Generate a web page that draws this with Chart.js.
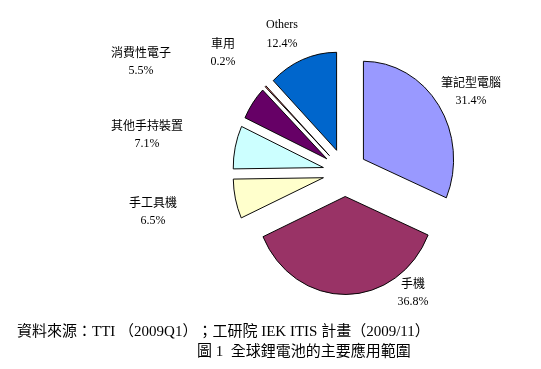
<!DOCTYPE html>
<html>
<head>
<meta charset="utf-8">
<script src="https://cdn.jsdelivr.net/npm/chart.js@4/dist/chart.umd.min.js"></script>
<style>
  html, body { margin: 0; padding: 0; background: #fff; }
  #wrap { position: relative; width: 541px; height: 369px; }
  canvas { display: block; }
</style>
</head>
<body>
<div id="wrap"><canvas id="pie" width="541" height="369"></canvas></div>
<script>
// --- data ---
const categories = ['筆記型電腦', '手機', '手工具機', '其他手持裝置', '消費性電子', '車用', 'Others'];
const shares = [31.4, 36.8, 6.5, 7.1, 5.5, 0.2, 12.4];
const sliceColors = ['#9999FF', '#993366', '#FFFFCC', '#CCFFFF', '#660066', '#FF8080', '#0066CC'];

// label anchors (name line centre), placed like the original sheet
const labelPos = [[471, 82], [413, 283], [153, 202], [147, 125], [141, 52], [223, 43], [282, 25]];

const sourceText = '資料來源：TTI （2009Q1）；工研院 IEK ITIS 計畫（2009/11）';
const captionText = '圖 1  全球鋰電池的主要應用範圍';

const cjk = '"Noto Sans CJK TC", sans-serif';
const serif = '"Liberation Serif", "Noto Sans CJK TC", serif';

const EXPLODE = 24;   // px each slice is pulled out
const SQUASH_X = 0.92; // the original pie is a bit narrower than tall

// draw the arcs ourselves: plain translate, no radius growth like chart.js offset does
const exploded = {
    id: 'exploded',
    beforeDatasetDraw(chart, args) {
        const ctx = chart.ctx;
        const cx = (chart.chartArea.left + chart.chartArea.right) / 2;
        ctx.save();
        ctx.translate(cx, 0);
        ctx.scale(SQUASH_X, 1);
        ctx.translate(-cx, 0);
        args.meta.data.forEach(arc => {
            const half = (arc.startAngle + arc.endAngle) / 2;
            ctx.save();
            ctx.translate(Math.cos(half) * EXPLODE, Math.sin(half) * EXPLODE);
            arc.draw(ctx);
            ctx.restore();
        });
        ctx.restore();
        return false;
    }
};

const textLayer = {
    id: 'textLayer',
    afterDraw(chart) {
        const ctx = chart.ctx;
        ctx.save();
        ctx.fillStyle = '#000';
        ctx.textAlign = 'center';
        ctx.textBaseline = 'middle';
        categories.forEach((name, i) => {
            const [x, y] = labelPos[i];
            ctx.font = (name === 'Others' ? '12px ' + serif : '12px ' + cjk);
            ctx.fillText(name, x, y);
            ctx.font = '12px ' + serif;
            ctx.fillText(shares[i].toFixed(1) + '%', x, y + 19);
        });
        ctx.textAlign = 'left';
        ctx.font = '15px ' + serif;
        ctx.fillText(sourceText, 17, 332);
        ctx.fillText(captionText, 197, 352);
        ctx.restore();
    }
};

new Chart(document.getElementById('pie'), {
    type: 'pie',
    data: {
        labels: categories,
        datasets: [{
            data: shares,
            backgroundColor: sliceColors,
            borderColor: '#000',
            borderWidth: 1,
            clip: false
        }]
    },
    options: {
        responsive: false,
        animation: false,
        radius: 98,
        layout: { padding: { left: 199, right: 50, top: 20, bottom: 44 } },
        plugins: {
            legend: { display: false },
            tooltip: { enabled: false }
        }
    },
    plugins: [exploded, textLayer]
});
</script>
</body>
</html>
